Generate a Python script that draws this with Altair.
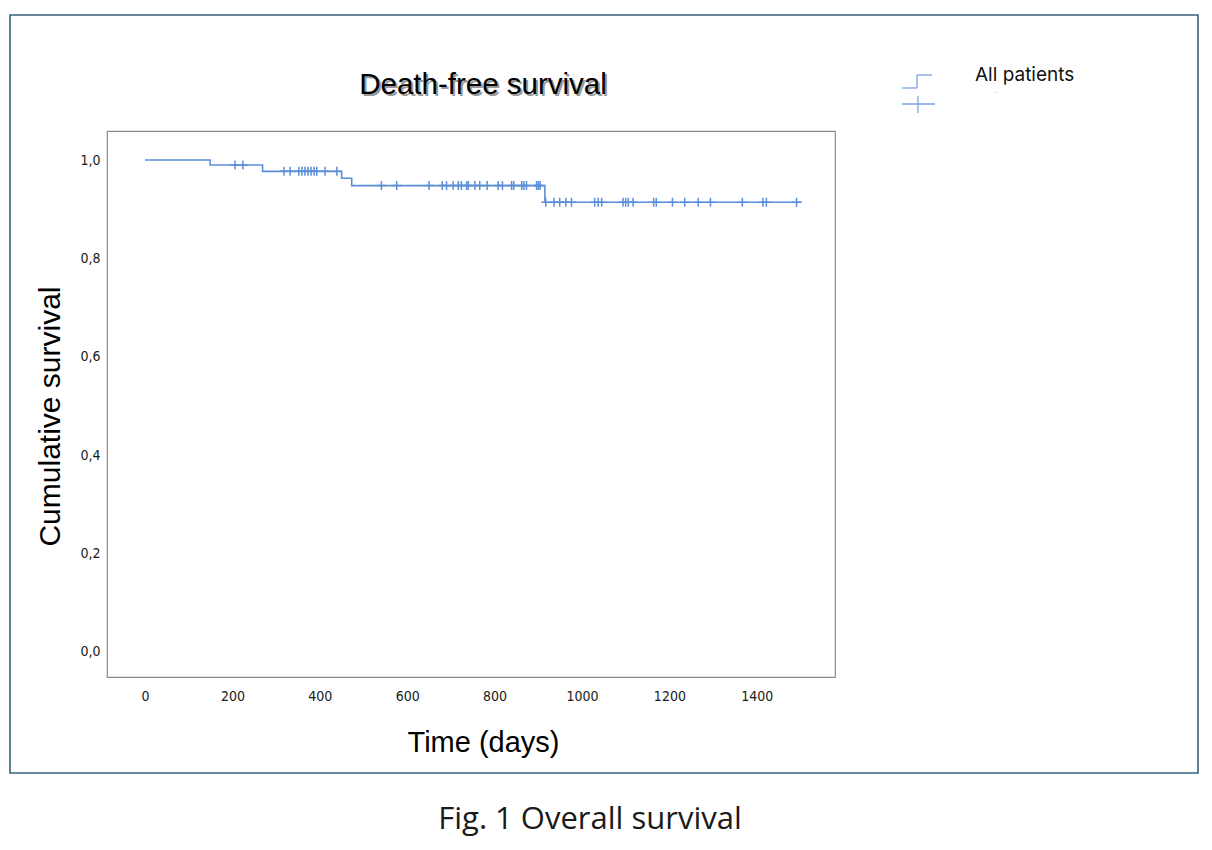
import altair as alt
import pandas as pd

# ---- data ----
event_times = [0, 149, 269, 450, 473, 915]
survival = [1.000, 0.990, 0.977, 0.963, 0.948, 0.914]
end_time = 1503
censor_times = [206, 224, 318, 332, 352, 359, 366, 373, 380, 387, 393, 412, 439,
                541, 576, 650, 680, 690, 705, 717, 724, 736, 740, 755, 766, 783,
                808, 818, 839, 844, 862, 867, 873, 896, 900, 904,
                917, 936, 949, 963, 976, 1029, 1037, 1045, 1094, 1100, 1106, 1117,
                1164, 1170, 1207, 1235, 1266, 1294, 1367, 1414, 1422, 1491]
x_ticks = [0, 200, 400, 600, 800, 1000, 1200, 1400]
y_ticks = [0.0, 0.2, 0.4, 0.6, 0.8, 1.0]

chart_title = "Death-free survival"
x_title = "Time (days)"
y_title = "Cumulative survival"
legend_label = "All patients"
caption = "Fig. 1 Overall survival"

BLUE = "#5b8fd8"
LEG_BLUE = "#7aa3e0"


def level_at(t):
    s = survival[0]
    for et, sv in zip(event_times, survival):
        if et <= t:
            s = sv
    return s


curve = pd.DataFrame({"time": event_times + [end_time],
                      "surv": survival + [survival[-1]]})
cens = pd.DataFrame({"time": censor_times,
                     "surv": [level_at(t) for t in censor_times]})

xs = alt.Scale(domain=[-87, 1579], nice=False, zero=False)
ys = alt.Scale(domain=[-0.051, 1.059], nice=False, zero=False)

label_font = "DejaVu Sans Condensed, DejaVu Sans"
title_font = "Liberation Sans"

x_axis = alt.Axis(values=x_ticks, title=x_title, grid=False, ticks=False, domain=False,
                  format="d",
                  labelFont=label_font, labelFontSize=14, labelColor="#1a1a1a",
                  labelPadding=12,
                  titleFont=title_font, titleFontSize=29, titleFontWeight="normal",
                  titleColor="#000", titleX=376, titleY=65,
                  titleAlign="center", titleBaseline="middle")
y_axis = alt.Axis(values=y_ticks, title=y_title, grid=False, ticks=False, domain=False,
                  labelFont=label_font, labelFontSize=14, labelColor="#1a1a1a",
                  labelPadding=7,
                  labelExpr="replace(format(datum.value, '.1f'), '.', ',')",
                  titleFont=title_font, titleFontSize=30, titleFontWeight="normal",
                  titleColor="#000", titleX=-57, titleY=285, titleAngle=270,
                  titleAlign="center", titleBaseline="middle")

line = alt.Chart(curve).mark_line(interpolate="step-after", color=BLUE,
                                  strokeWidth=1.6).encode(
    x=alt.X("time:Q", scale=xs, axis=x_axis),
    y=alt.Y("surv:Q", scale=ys, axis=y_axis),
)

ticks = alt.Chart(cens).mark_point(shape="M0,-1L0,1M-1,0L1,0", size=81, color=BLUE,
                                   strokeWidth=1.5, filled=False, opacity=1).encode(
    x=alt.X("time:Q", scale=xs),
    y=alt.Y("surv:Q", scale=ys),
)

one = alt.Data(values=[{"k": 1}])

def txt(s, x, y, size, font, color="#000", weight="normal", align="center", dx=0, dy=0):
    return alt.Chart(one).mark_text(text=s, font=font, fontSize=size, color=color,
                                    fontWeight=weight, align=align, baseline="middle",
                                    dx=dx, dy=dy).encode(
        x=alt.value(x), y=alt.value(y))

title_shadow = txt(chart_title, 376, -46, 29.5, title_font, color="#9a9a9a", dx=2, dy=2)
title_main = txt(chart_title, 376, -46, 29.5, title_font, color="#000")
caption_t = txt(caption, 483, 689, 31, "Open Sans", color="#1a1a1a")
leg_label = txt(legend_label, 868, -56, 19, "Inter", color="#111", align="left")
leg_dot = txt("-", 889, -39, 6, "Noto Sans", color="#888")


def hrule(x1, x2, y, color=LEG_BLUE):
    return alt.Chart(one).mark_rule(color=color, strokeWidth=1.3).encode(
        x=alt.value(x1), x2=alt.value(x2), y=alt.value(y))


def vrule(x, y1, y2, color=LEG_BLUE):
    return alt.Chart(one).mark_rule(color=color, strokeWidth=1.3).encode(
        x=alt.value(x), y=alt.value(y1), y2=alt.value(y2))

legend_parts = [
    hrule(795, 810, -43), vrule(810, -56, -43), hrule(810, 825, -56),
    hrule(795, 828, -27), vrule(811, -35, -18),
]

frame = alt.Chart(one).mark_rect(fillOpacity=0, stroke="#34607e", strokeWidth=1.6).encode(
    x=alt.value(-97), x2=alt.value(1091), y=alt.value(-116), y2=alt.value(642))

chart = alt.layer(line, ticks, title_shadow, title_main, caption_t, leg_label, leg_dot,
                  *legend_parts, frame).properties(
    width=728, height=546,
    padding={"left": 99, "top": 123, "right": 368, "bottom": 160},
    autosize=alt.AutoSizeParams(type="none"),
    background="white",
).configure_view(stroke="#8c8c8c", strokeWidth=1.2)

chart.save("out.html", embed_options={"renderer": "svg", "actions": False})
